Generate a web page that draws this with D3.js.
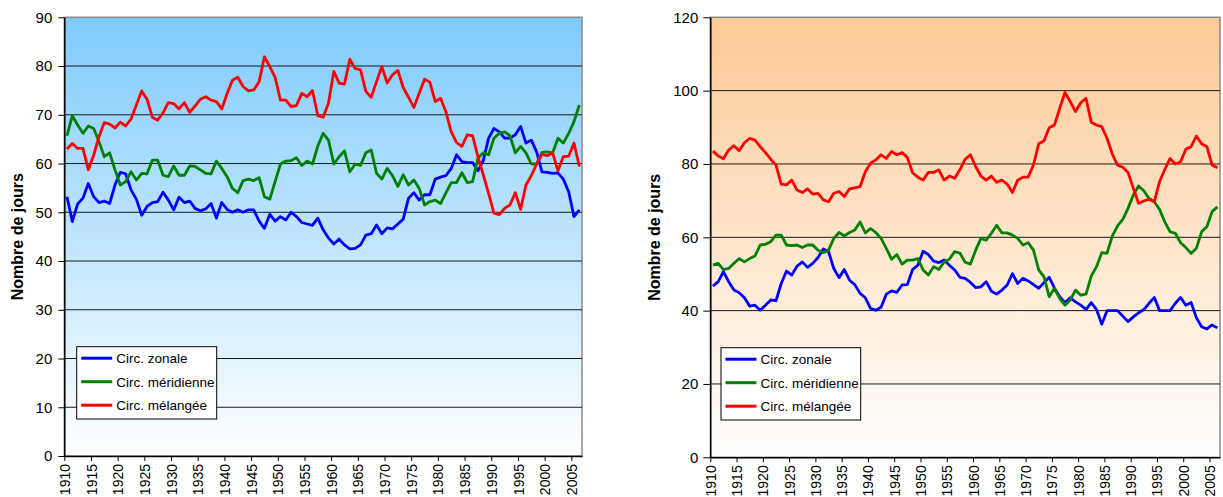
<!DOCTYPE html>
<html>
<head>
<meta charset="utf-8">
<script src="https://cdn.jsdelivr.net/npm/d3@7"></script>
<style>
  body { margin: 0; background: #fff; }
  svg text { font-family: "Liberation Sans", Arial, sans-serif; fill: #000; }
</style>
</head>
<body>
<div id="chart"></div>
<script>
// chart data, one value per year 1910..2006
const firstYear = 1910
const lastYear = 2006
const years = d3.range(firstYear, lastYear + 1)
const xTickYears = d3.range(1910, 2006, 5)
const seriesNames = ["Circ. zonale", "Circ. méridienne", "Circ. mélangée"]
const seriesColors = ["#0000ff", "#008000", "#ff0000"]
const yTitle = "Nombre de jours"

const leftTicks = [0, 10, 20, 30, 40, 50, 60, 70, 80, 90]
const rightTicks = [0, 20, 40, 60, 80, 100, 120]

const leftZonal = [
  53.2, 48.1, 51.7, 52.9, 55.9, 53.2, 52.0, 52.3, 51.8, 55.6,
  58.2, 57.9, 54.6, 52.7, 49.4, 51.2, 52.0, 52.2, 54.1, 52.5,
  50.5, 53.1, 52.0, 52.3, 50.8, 50.3, 50.7, 51.8, 48.8, 52.0,
  50.6, 50.0, 50.5, 50.0, 50.5, 50.5, 48.2, 46.7, 49.6, 48.2,
  49.1, 48.4, 50.0, 49.1, 47.9, 47.6, 47.3, 48.8, 46.4, 44.7,
  43.5, 44.5, 43.3, 42.5, 42.6, 43.3, 45.3, 45.6, 47.4, 45.6,
  46.8, 46.6, 47.6, 48.6, 52.9, 54.0, 52.5, 53.6, 53.6, 56.8,
  57.2, 57.5, 59.0, 61.8, 60.4, 60.2, 60.2, 58.5, 60.6, 65.2,
  67.2, 66.5, 65.2, 65.2, 65.9, 67.6, 64.2, 64.8, 62.4, 58.3,
  58.2, 58.0, 58.1, 56.8, 54.2, 49.1, 50.5
]
const leftMeridian = [
  65.7, 69.8, 67.9, 66.2, 67.7, 67.2, 64.5, 61.4, 62.2, 58.7,
  55.6, 56.3, 58.3, 56.6, 58.0, 57.9, 60.7, 60.7, 57.6, 57.3,
  59.5, 57.6, 57.6, 59.5, 59.4, 58.7, 58.0, 57.9, 60.5, 59.0,
  57.3, 54.9, 54.0, 56.5, 56.8, 56.5, 57.1, 53.2, 52.7, 56.3,
  59.9, 60.5, 60.6, 61.2, 59.6, 60.5, 59.9, 63.6, 66.2, 64.8,
  59.9, 61.4, 62.6, 58.3, 59.9, 59.6, 62.2, 62.8, 58.0, 56.8,
  59.0, 57.5, 55.3, 57.7, 55.6, 56.6, 54.9, 51.5, 52.2, 52.5,
  51.8, 54.0, 56.1, 56.1, 58.1, 56.1, 56.3, 61.1, 62.2, 61.8,
  65.2, 66.2, 66.5, 65.7, 62.2, 63.5, 62.2, 59.9, 59.9, 62.3,
  62.4, 62.2, 65.2, 64.2, 66.2, 68.6, 72.0
]
const leftMixed = [
  63.0, 64.1, 63.1, 63.1, 58.7, 61.7, 65.5, 68.4, 68.1, 67.3,
  68.5, 67.7, 69.1, 72.0, 74.9, 73.2, 69.5, 68.9, 70.4, 72.5,
  72.3, 71.2, 72.5, 70.5, 71.8, 73.2, 73.7, 73.0, 72.7, 71.2,
  74.3, 77.1, 77.7, 75.8, 74.9, 75.1, 76.8, 81.9, 79.9, 77.7,
  73.0, 73.0, 71.7, 71.9, 74.4, 73.7, 75.0, 69.8, 69.5, 72.4,
  78.9, 76.5, 76.3, 81.4, 79.5, 79.2, 74.8, 73.6, 76.8, 79.9,
  76.5, 78.2, 79.1, 75.6, 73.6, 71.5, 74.4, 77.3, 76.7, 72.7,
  73.4, 70.6, 66.5, 64.3, 63.5, 65.9, 65.7, 61.4, 57.7, 53.9,
  49.8, 49.5, 50.8, 51.5, 54.0, 50.6, 55.6, 57.5, 59.9, 61.9,
  61.6, 62.2, 58.5, 61.4, 61.5, 64.2, 59.4
]

const rightZonal = [
  46.7, 47.9, 50.6, 47.9, 45.6, 44.9, 43.5, 41.2, 41.5, 40.1,
  41.5, 42.9, 42.7, 47.4, 50.8, 49.7, 52.1, 53.3, 51.8, 52.9,
  54.5, 56.8, 56.1, 51.5, 49.0, 51.2, 48.3, 47.1, 44.7, 43.5,
  40.6, 40.1, 40.9, 44.5, 45.4, 45.0, 47.0, 47.1, 51.2, 52.4,
  56.2, 55.3, 53.5, 53.1, 53.8, 52.4, 51.1, 49.1, 48.8, 47.7,
  46.3, 46.5, 47.9, 45.3, 44.5, 45.6, 47.0, 50.1, 47.4, 48.8,
  48.1, 47.1, 46.1, 47.6, 49.1, 46.1, 43.8, 42.2, 43.5, 42.4,
  41.5, 40.3, 42.2, 40.3, 36.3, 40.0, 40.0, 40.0, 38.5, 37.0,
  38.3, 39.4, 40.3, 42.0, 43.6, 40.0, 40.0, 40.0, 42.0, 43.6,
  41.5, 42.2, 38.1, 35.6, 35.0, 36.1, 35.3
]
const rightMeridian = [
  52.4, 52.9, 51.2, 51.5, 52.9, 54.2, 53.3, 54.2, 54.9, 57.9,
  58.1, 58.8, 60.6, 60.6, 57.9, 57.7, 57.9, 57.2, 57.9, 57.9,
  56.5, 55.8, 56.5, 59.7, 61.3, 60.4, 61.3, 62.0, 64.2, 61.2,
  62.4, 61.3, 59.7, 57.0, 54.0, 55.3, 52.7, 53.8, 53.8, 54.2,
  51.1, 49.7, 52.0, 51.2, 53.3, 54.0, 56.1, 55.7, 53.2, 52.7,
  56.5, 59.7, 59.2, 61.1, 63.3, 61.2, 61.2, 60.6, 59.7, 57.9,
  58.5, 56.5, 51.1, 49.2, 43.8, 46.1, 43.3, 41.5, 42.9, 45.6,
  44.2, 44.5, 49.4, 52.0, 55.8, 55.6, 60.3, 63.1, 64.9, 67.9,
  71.5, 74.0, 72.7, 70.6, 69.7, 67.6, 64.2, 61.5, 61.1, 58.5,
  57.2, 55.6, 57.0, 61.5, 62.9, 67.0, 68.3
]
const rightMixed = [
  83.5, 82.2, 81.4, 83.8, 85.0, 83.6, 85.8, 87.0, 86.5, 84.7,
  83.1, 81.3, 79.7, 74.5, 74.3, 75.6, 72.9, 72.2, 73.2, 71.8,
  72.0, 70.2, 69.7, 72.0, 72.5, 71.1, 73.2, 73.5, 73.8, 77.9,
  80.2, 81.1, 82.5, 81.5, 83.4, 82.5, 83.1, 81.8, 77.6, 76.4,
  75.6, 77.7, 77.7, 78.4, 75.6, 76.7, 76.1, 78.4, 81.3, 82.5,
  79.3, 76.7, 75.6, 76.7, 75.0, 75.6, 74.5, 72.2, 75.6, 76.4,
  76.4, 79.7, 85.5, 86.3, 89.9, 90.6, 95.2, 99.5, 97.0, 94.3,
  96.7, 97.9, 91.4, 90.6, 90.2, 87.0, 82.7, 79.7, 79.1, 77.7,
  73.4, 69.3, 69.9, 70.4, 69.7, 75.2, 78.5, 81.5, 80.0, 80.6,
  84.0, 84.7, 87.6, 85.5, 84.7, 79.7, 79.0
]

const width = 1223
const height = 497

const svg = d3.select('#chart')
  .append('svg')
  .attr('width', width)
  .attr('height', height)

const defs = svg.append('defs')

// one panel = one chart with its own scales, gradient, legend
const drawPanel = function (p) {

  const xScale = d3.scaleLinear()
    .domain([firstYear, lastYear + 1])
    .range([p.left, p.right])

  const yScale = d3.scaleLinear()
    .domain([0, d3.max(p.ticks)])
    .range([p.bottom, p.top])

  const grad = defs.append('linearGradient')
    .attr('id', p.id + '-bg')
    .attr('x1', 0).attr('y1', 0).attr('x2', 0).attr('y2', 1)
  grad.append('stop').attr('offset', '0%').attr('stop-color', p.topColor)
  grad.append('stop').attr('offset', '100%').attr('stop-color', '#ffffff')

  const g = svg.append('g').attr('id', p.id)

  g.append('rect')
    .attr('x', p.left)
    .attr('y', p.top)
    .attr('width', p.right - p.left)
    .attr('height', p.bottom - p.top)
    .attr('fill', 'url(#' + p.id + '-bg)')
    .attr('stroke', '#8a8a8a')
    .attr('stroke-width', 1.5)

  // horizontal grid
  g.selectAll('.grid')
    .data(p.ticks.filter(t => t > 0 && t < d3.max(p.ticks)))
    .enter()
    .append('line')
    .attr('class', 'grid')
    .attr('x1', p.left)
    .attr('x2', p.right)
    .attr('y1', d => yScale(d))
    .attr('y2', d => yScale(d))
    .attr('stroke', '#1a1a1a')
    .attr('stroke-width', 1)

  const yAxis = d3.axisLeft(yScale)
    .tickValues(p.ticks)
    .tickSize(p.tickLen)
    .tickSizeOuter(0)
    .tickPadding(p.tickPad)
    .tickFormat(d3.format('d'))

  const yg = g.append('g')
    .attr('transform', 'translate(' + p.left + ',0)')
    .call(yAxis)
  yg.selectAll('text').style('font-size', '15px')
  yg.select('.domain').attr('stroke-width', 1.5)

  const xAxis = d3.axisBottom(xScale)
    .tickValues(xTickYears)
    .tickSize(5)
    .tickSizeOuter(0)
    .tickFormat(d3.format('d'))

  const xg = g.append('g')
    .attr('transform', 'translate(0,' + p.bottom + ')')
    .call(xAxis)
  xg.select('.domain').attr('stroke-width', 1.5)
  xg.selectAll('text')
    .attr('transform', 'rotate(-90)')
    .attr('x', -8)
    .attr('y', 0)
    .attr('dy', '0.36em')
    .style('text-anchor', 'end')
    .style('font-size', '14px')

  // series lines
  const line = d3.line()
    .x((d, i) => xScale(years[i] + 0.5))
    .y(d => yScale(d))

  g.selectAll('.series')
    .data(p.series)
    .enter()
    .append('path')
    .attr('class', 'series')
    .attr('d', d => line(d))
    .attr('fill', 'none')
    .attr('stroke', (d, i) => seriesColors[i])
    .attr('stroke-width', 2.8)
    .attr('stroke-linejoin', 'round')

  // axis title
  g.append('text')
    .attr('transform', 'translate(' + p.titleX + ',' + ((p.top + p.bottom) / 2) + ') rotate(-90)')
    .attr('text-anchor', 'middle')
    .style('font-size', '16px')
    .style('font-weight', 'bold')
    .text(yTitle)

  // legend
  const lg = g.append('g')
    .attr('transform', 'translate(' + p.legend.x + ',' + p.legend.y + ')')

  lg.append('rect')
    .attr('width', p.legend.w)
    .attr('height', p.legend.h)
    .attr('fill', '#fff')
    .attr('stroke', '#000')
    .attr('stroke-width', 1)

  const items = lg.selectAll('.item')
    .data(seriesNames)
    .enter()
    .append('g')
    .attr('class', 'item')
    .attr('transform', (d, i) => 'translate(0,' + (11.5 + i * 23.5) + ')')

  items.append('line')
    .attr('x1', 4.5)
    .attr('x2', 35.5)
    .attr('stroke', (d, i) => seriesColors[i])
    .attr('stroke-width', 3)

  items.append('text')
    .attr('x', 39.5)
    .attr('dy', '0.36em')
    .style('font-size', '13.5px')
    .text(d => d)
}

drawPanel({
  id: 'left', left: 64.3, right: 582, top: 17.3, bottom: 456,
  ticks: leftTicks, tickLen: 6, tickPad: 6, topColor: '#7fcbfd', titleX: 23,
  legend: { x: 76.7, y: 346.7, w: 140, h: 72.3 },
  series: [leftZonal, leftMeridian, leftMixed]
})

drawPanel({
  id: 'right', left: 710.3, right: 1220, top: 17.3, bottom: 457.3,
  ticks: rightTicks, tickLen: 7, tickPad: 5, topColor: '#fdca96', titleX: 660,
  legend: { x: 721, y: 347.7, w: 139.7, h: 72.3 },
  series: [rightZonal, rightMeridian, rightMixed]
})
</script>
</body>
</html>
